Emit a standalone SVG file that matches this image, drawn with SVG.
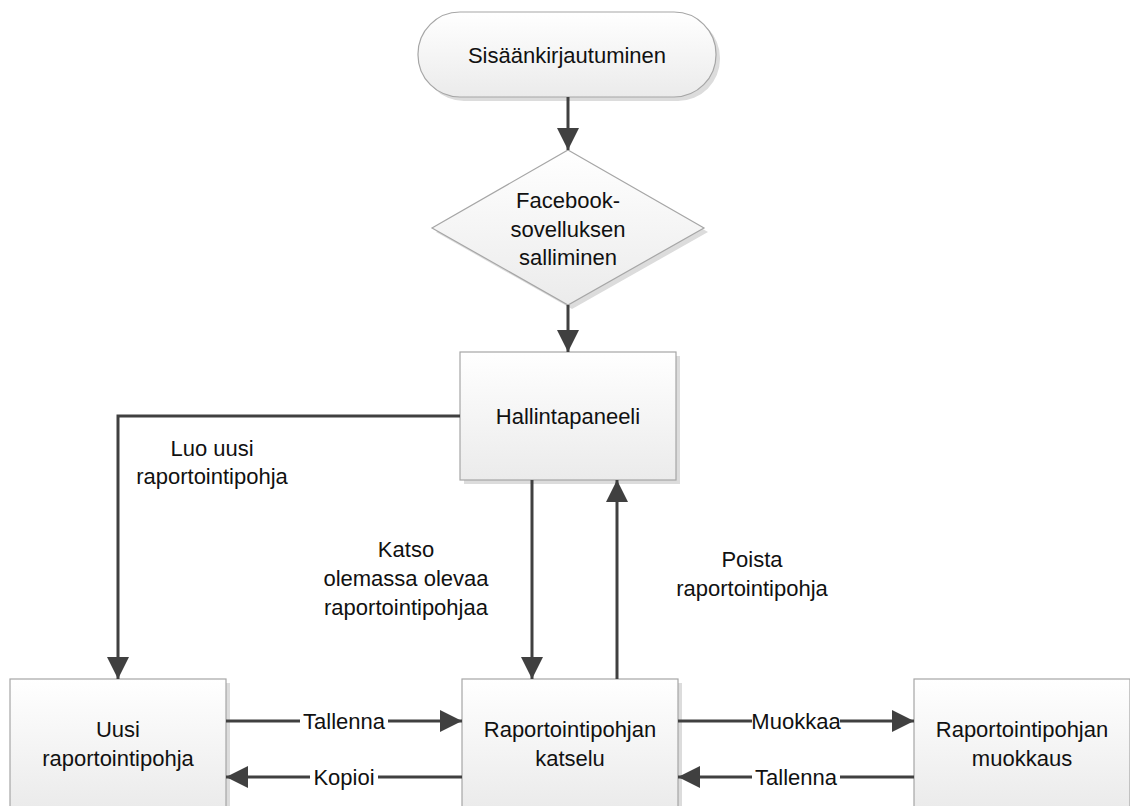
<svg xmlns="http://www.w3.org/2000/svg" width="1130" height="806" viewBox="0 0 1130 806">
<defs>
<linearGradient id="g" x1="0" y1="0" x2="0" y2="1">
<stop offset="0" stop-color="#ffffff"/>
<stop offset="1" stop-color="#ebebeb"/>
</linearGradient>
<marker id="ah" markerUnits="userSpaceOnUse" markerWidth="22" markerHeight="22" viewBox="0 0 20 20" refX="20" refY="10" orient="auto">
<path d="M0,0 L20,10 L0,20 Z" fill="#404040"/>
</marker>
</defs>
<style>
.shape{fill:url(#g);stroke:#a6a6a6;stroke-width:1.2}
.shadow{fill:#dcdcdc}
.t{font-family:"Liberation Sans",Arial,sans-serif;font-size:22px;fill:#111;text-anchor:middle}
.c{fill:none;stroke:#404040;stroke-width:3;marker-end:url(#ah)}
.lb{fill:#fff}
</style>
<rect width="1130" height="806" fill="#fff"/>

<g id="n-login">
<rect class="shadow" x="422" y="16" width="298" height="85" rx="42"/>
<rect class="shape" x="418" y="12" width="298" height="85" rx="42"/>
<text class="t" x="567" y="63">Sisäänkirjautuminen</text>
</g>

<g id="n-facebook">
<polygon class="shadow" points="572,154 708,232 572,309 436,232"/>
<polygon class="shape" points="568,150 704,228 568,305 432,228"/>
<text class="t" x="568" y="208">Facebook-</text>
<text class="t" x="568" y="237">sovelluksen</text>
<text class="t" x="568" y="265">salliminen</text>
</g>

<g id="n-hallinta">
<rect class="shadow" x="464" y="356" width="216" height="128"/>
<rect class="shape" x="460" y="352" width="216" height="128"/>
<text class="t" x="568" y="424">Hallintapaneeli</text>
</g>

<g id="n-uusi">
<rect class="shadow" x="14" y="683" width="216" height="128"/>
<rect class="shape" x="10" y="679" width="216" height="128"/>
<text class="t" x="118" y="737">Uusi</text>
<text class="t" x="118" y="766">raportointipohja</text>
</g>

<g id="n-katselu">
<rect class="shadow" x="466" y="683" width="216" height="128"/>
<rect class="shape" x="462" y="679" width="216" height="128"/>
<text class="t" x="570" y="737">Raportointipohjan</text>
<text class="t" x="570" y="766">katselu</text>
</g>

<g id="n-muokkaus">
<rect class="shadow" x="918" y="683" width="216" height="128"/>
<rect class="shape" x="914" y="679" width="216" height="128"/>
<text class="t" x="1022" y="737">Raportointipohjan</text>
<text class="t" x="1022" y="766">muokkaus</text>
</g>

<g id="connectors">
<path class="c" d="M568,97 L568,150"/>
<path class="c" d="M568,305 L568,352"/>
<path class="c" d="M460,416 L118,416 L118,679"/>
<path class="c" d="M532,480 L532,679"/>
<path class="c" d="M617,679 L617,480"/>
<path class="c" d="M226,721 L462,721"/>
<path class="c" d="M462,777 L226,777"/>
<path class="c" d="M678,721 L914,721"/>
<path class="c" d="M914,777 L678,777"/>

<text class="t" x="212" y="456">Luo uusi</text>
<text class="t" x="212" y="484">raportointipohja</text>
<text class="t" x="406" y="557">Katso</text>
<text class="t" x="406" y="586">olemassa olevaa</text>
<text class="t" x="406" y="615">raportointipohjaa</text>
<text class="t" x="752" y="567">Poista</text>
<text class="t" x="752" y="596">raportointipohja</text>

<rect class="lb" x="300" y="708" width="88" height="26"/>
<text class="t" x="344" y="729">Tallenna</text>
<rect class="lb" x="310" y="764" width="68" height="26"/>
<text class="t" x="344" y="785">Kopioi</text>
<rect class="lb" x="752" y="708" width="88" height="26"/>
<text class="t" x="796" y="729">Muokkaa</text>
<rect class="lb" x="752" y="764" width="88" height="26"/>
<text class="t" x="796" y="785">Tallenna</text>
</g>
</svg>
